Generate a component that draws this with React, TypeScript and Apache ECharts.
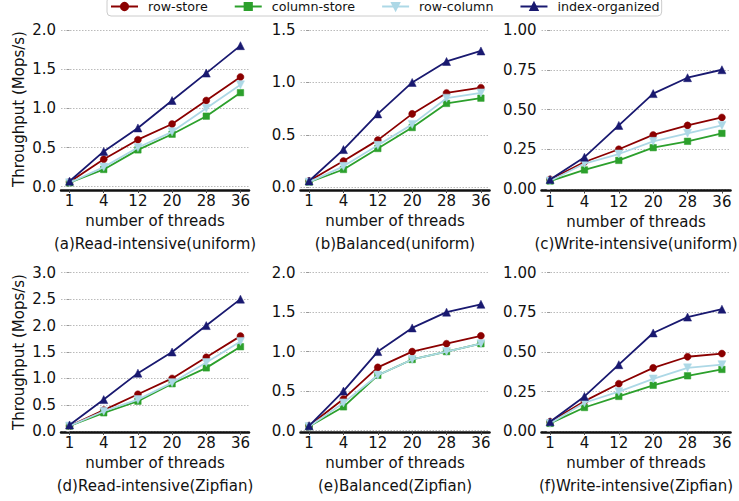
import React, { useEffect, useRef } from 'react';
import * as echarts from 'echarts';

const threads = ['1', '4', '12', '20', '28', '36'];
const seriesNames = ['row-store', 'column-store', 'row-column', 'index-organized'];
const panelTitles = [
  '(a)Read-intensive(uniform)',
  '(b)Balanced(uniform)',
  '(c)Write-intensive(uniform)',
  '(d)Read-intensive(Zipfian)',
  '(e)Balanced(Zipfian)',
  '(f)Write-intensive(Zipfian)',
];

// (a) Read-intensive (uniform)
const aRowStore = [0.06, 0.35, 0.6, 0.8, 1.1, 1.4];
const aColumnStore = [0.05, 0.22, 0.47, 0.67, 0.9, 1.2];
const aRowColumn = [0.05, 0.25, 0.5, 0.7, 1.0, 1.3];
const aIndexOrg = [0.07, 0.45, 0.75, 1.1, 1.45, 1.8];
// (b) Balanced (uniform)
const bRowStore = [0.06, 0.25, 0.45, 0.7, 0.9, 0.95];
const bColumnStore = [0.05, 0.17, 0.37, 0.57, 0.8, 0.85];
const bRowColumn = [0.05, 0.2, 0.4, 0.6, 0.85, 0.9];
const bIndexOrg = [0.06, 0.36, 0.7, 1.0, 1.2, 1.3];
// (c) Write-intensive (uniform)
const cRowStore = [0.06, 0.17, 0.25, 0.34, 0.4, 0.45];
const cColumnStore = [0.05, 0.12, 0.18, 0.26, 0.3, 0.35];
const cRowColumn = [0.05, 0.16, 0.22, 0.3, 0.35, 0.4];
const cIndexOrg = [0.06, 0.2, 0.4, 0.6, 0.7, 0.75];
// (d) Read-intensive (Zipfian)
const dRowStore = [0.1, 0.4, 0.7, 1.0, 1.4, 1.8];
const dColumnStore = [0.1, 0.35, 0.57, 0.9, 1.2, 1.6];
const dRowColumn = [0.1, 0.38, 0.6, 0.92, 1.3, 1.7];
const dIndexOrg = [0.12, 0.6, 1.1, 1.5, 2.0, 2.5];
// (e) Balanced (Zipfian)
const eRowStore = [0.06, 0.4, 0.8, 1.0, 1.1, 1.2];
const eColumnStore = [0.05, 0.3, 0.7, 0.9, 1.0, 1.1];
const eRowColumn = [0.05, 0.35, 0.7, 0.9, 1.0, 1.1];
const eIndexOrg = [0.06, 0.5, 1.0, 1.3, 1.5, 1.6];
// (f) Write-intensive (Zipfian)
const fRowStore = [0.06, 0.19, 0.3, 0.4, 0.47, 0.49];
const fColumnStore = [0.05, 0.15, 0.22, 0.29, 0.35, 0.39];
const fRowColumn = [0.05, 0.18, 0.25, 0.33, 0.4, 0.42];
const fIndexOrg = [0.06, 0.22, 0.42, 0.62, 0.72, 0.77];

const panelData = [
  [aRowStore, aColumnStore, aRowColumn, aIndexOrg],
  [bRowStore, bColumnStore, bRowColumn, bIndexOrg],
  [cRowStore, cColumnStore, cRowColumn, cIndexOrg],
  [dRowStore, dColumnStore, dRowColumn, dIndexOrg],
  [eRowStore, eColumnStore, eRowColumn, eIndexOrg],
  [fRowStore, fColumnStore, fRowColumn, fIndexOrg],
];

const yMaxes = [2.0, 1.5, 1.0, 3.0, 2.0, 1.0];
const yIntervals = [0.5, 0.5, 0.25, 0.5, 0.5, 0.25];
const yDecimals = [1, 1, 2, 1, 1, 2];

const FONT = 'DejaVu Sans';
const colors = ['#8b0000', '#2ca02c', '#add8e6', '#191970'];
const symbols = ['circle', 'rect', 'triangle', 'triangle'];
const symbolRotates = [0, 0, 180, 0];
const symbolSizes = [7, 6.5, 8, 8];

const gridLayout = [
  { left: 61, top: 30, width: 188, height: 156.7, offset: 3.3 },
  { left: 300.5, top: 30, width: 189, height: 157.3, offset: 2.7 },
  { left: 541.5, top: 30, width: 189, height: 159, offset: 1.5 },
  { left: 61, top: 272.7, width: 188, height: 158.6, offset: 0.6 },
  { left: 300.5, top: 272.7, width: 189, height: 157.8, offset: 1.5 },
  { left: 541.5, top: 272.7, width: 189, height: 158.6, offset: 0.6 },
];

export default function App() {
  const ref = useRef<HTMLDivElement>(null);
  useEffect(() => {
    document.body.style.margin = '0';
    if (!ref.current) return;
    const chart = echarts.init(ref.current, undefined, { renderer: 'svg' });
    const idx = threads.map((_, i) => i);

    const grid = gridLayout.map((g) => ({
      left: g.left,
      top: g.top,
      width: g.width,
      height: g.height,
      containLabel: false,
    }));

    const xAxis = gridLayout.map((g, i) => ({
      type: 'value',
      gridIndex: i,
      min: -0.25,
      max: 5.25,
      offset: g.offset,
      name: 'number of threads',
      nameLocation: 'middle',
      nameGap: 23.5,
      nameTextStyle: { fontFamily: FONT, fontSize: 15, color: '#111' },
      axisLine: { show: true, onZero: false, lineStyle: { color: '#111', width: 2.5 } },
      axisTick: { show: true, length: 3, customValues: idx, lineStyle: { color: '#444', width: 1 } },
      axisLabel: {
        show: true,
        customValues: idx,
        margin: 3.5,
        fontFamily: FONT,
        fontSize: 15,
        color: '#111',
        formatter: (v: number) => threads[Math.round(v)] ?? '',
      },
      splitLine: { show: false },
    }));

    const yAxis = gridLayout.map((_, i) => ({
      type: 'value',
      gridIndex: i,
      min: 0,
      max: yMaxes[i],
      interval: yIntervals[i],
      axisLine: { show: false },
      axisTick: { show: true, length: 3, lineStyle: { color: '#999', width: 1 } },
      axisLabel: {
        margin: 5,
        fontFamily: FONT,
        fontSize: 15,
        color: '#111',
        formatter: (v: number) => v.toFixed(yDecimals[i]),
      },
      splitLine: { show: true, lineStyle: { color: '#bbb', width: 1, type: [1.5, 1.5] } },
    }));

    const series: any[] = [];
    panelData.forEach((panel, p) => {
      panel.forEach((vals, s) => {
        series.push({
          type: 'line',
          name: seriesNames[s],
          xAxisIndex: p,
          yAxisIndex: p,
          data: vals.map((v, i) => [idx[i], v]),
          symbol: symbols[s],
          symbolSize: symbolSizes[s],
          symbolRotate: symbolRotates[s],
          showSymbol: true,
          lineStyle: { color: colors[s], width: 1.8 },
          itemStyle: { color: colors[s], borderColor: colors[s], borderWidth: 0.5 },
          z: 2 + s,
        });
      });
    });

    const graphic: any[] = [];
    gridLayout.forEach((g, i) => {
      const cx = g.left + g.width / 2;
      const cy = i < 3 ? 244 : 486;
      graphic.push({
        type: 'text',
        x: cx,
        y: cy,
        style: {
          text: panelTitles[i],
          fontFamily: FONT,
          fontSize: 15,
          fill: '#111',
          align: 'center',
          verticalAlign: 'middle',
          textAlign: 'center',
          textVerticalAlign: 'middle',
        },
      });
    });
    [109, 352].forEach((cy) => {
      graphic.push({
        type: 'text',
        x: 19,
        y: cy,
        rotation: Math.PI / 2,
        style: {
          text: 'Throughput (Mops/s)',
          fontFamily: FONT,
          fontSize: 15,
          fill: '#111',
          align: 'center',
          verticalAlign: 'middle',
          textAlign: 'center',
          textVerticalAlign: 'middle',
        },
      });
    });

    chart.setOption({
      animation: false,
      backgroundColor: '#fff',
      legend: {
        data: seriesNames,
        top: -3,
        left: 107,
        orient: 'horizontal',
        itemWidth: 27,
        itemHeight: 9,
        itemGap: 26,
        padding: [3, 2, 3, 3],
        borderColor: '#ccc',
        borderWidth: 1,
        borderRadius: 4,
        backgroundColor: '#fff',
        textStyle: { fontFamily: FONT, fontSize: 12.7, color: '#111', padding: [1, 0, 0, 5] },
      },
      grid,
      xAxis,
      yAxis,
      series,
      graphic,
    });
    return () => chart.dispose();
  }, []);
  return <div ref={ref} style={{ width: 739, height: 501, position: 'absolute', left: 0, top: 0 }} />;
}
